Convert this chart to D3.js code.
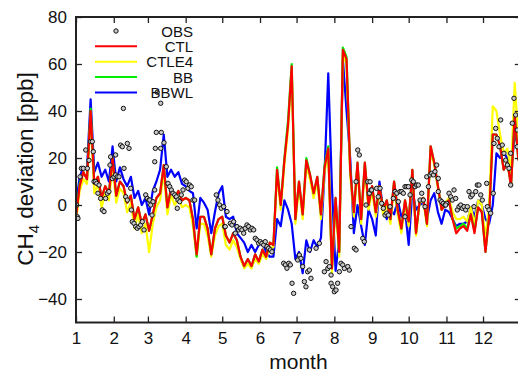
<!DOCTYPE html>
<html>
<head>
<meta charset="utf-8">
<script src="https://cdn.jsdelivr.net/npm/d3@7"></script>
<style>
  body { margin: 0; background: #fff; }
  text { font-family: "Liberation Sans", Arial, sans-serif; fill: #111; }
</style>
</head>
<body>
<svg id="chart" width="518" height="377"></svg>
<script>
// model output, one value every 3 days (day of year 0..363)
var days = d3.range(0, 364, 3);

var ctl = [-5, 8, 14, 11, 40, 9, 12, 3, 8, 5, 20, 4, 10, 8, 1, 4, -6, -1, -8, -4,
    -11, -4, 3, 5, 17, -1, 7, 3, 6, 2, 3, 2, -6, -21, -5, -5, -10, -21, -10, -6,
    -5, -13, -16, -12, -15, -22, -26, -23, -26, -21, -24, -19, -22, -16, -17, 15, 0, 19, 34, 59,
    -6, 10, -4, 19, 13, 5, 12, -4, 16, 24, -27, 3, -20, 66, 62, 15, -3, 18, -6, 18,
    0, 8, -3, 8, -2, 2, -6, 10, -2, -10, 2, -7, 15, -12, 2, 3, -8, 25, 18, 8,
    -2, 0, 2, -6, -12, -10, -9, -11, -4, -12, -1, -3, -20, -5, 30, 30, 25, 15, 18, 8,
    38, 19];

var ctle4 = [-7, 6, 11, 9, 37, 5, 9, -1, 5, 2, 17, 1, 7, 5, -3, 1, -10, -4, -12, -8,
    -20, -8, -1, 2, 14, -4, 4, 0, 3, -1, 0, -1, -9, -22, -8, -8, -13, -22, -13, -9,
    -8, -17, -19, -15, -18, -23, -27, -25, -27, -23, -25, -21, -23, -18, -18, 13, -2, 17, 32, 57,
    -8, 8, -6, 17, 11, 3, 10, -6, 14, 22, -29, 1, -22, 64, 60, 13, -5, 16, -8, 16,
    -2, 6, -5, 6, -4, 0, -8, 8, -4, -12, 0, -9, 13, -13, 1, 2, -9, 23, 17, 7,
    -2, 1, 3, -3, -6, -6, -5, -7, -1, -8, 2, 0, -14, -1, 42, 40, 30, 22, 24, 14,
    52, 28];

var bb = [-5, 9, 14, 11, 41, 9, 12, 3, 8, 5, 20, 4, 10, 8, 1, 4, -6, -1, -8, -4,
    -11, -4, 3, 5, 17, -1, 7, 3, 6, 2, 3, 2, -6, -22, -5, -5, -10, -21, -10, -6,
    -5, -13, -16, -12, -15, -22, -26, -23, -26, -21, -24, -19, -22, -16, -17, 16, 0, 20, 36, 60,
    -6, 10, -4, 20, 13, 5, 12, -4, 17, 25, -27, 3, -20, 67, 63, 15, -3, 18, -6, 18,
    0, 8, -3, 8, -2, 2, -6, 10, -2, -10, 2, -7, 15, -12, 2, 3, -8, 25, 18, 8,
    -2, 0, 2, -6, -10, -9, -8, -10, -4, -11, -1, -3, -20, -5, 30, 30, 25, 15, 18, 8,
    38, 19];

var bbwl = [0, 12, 16, 15, 45, 14, 18, 12, 15, 10, 25, 10, 16, 11, 8, 12, 3, 6, 0, 3,
    -4, 6, 10, 15, 30, 12, 15, 12, 14, 9, 8, 6, 5, -10, 3, 1, -2, -12, -3, 5,
    8, -5, -6, -5, -12, -14, -16, -20, -17, -20, -17, -16, -20, -22, -22, -6, -9, 2, -2, -8,
    -23, -20, -29, -15, -20, -15, -18, -14, 14, 56, 8, -28, -15, 62, 40, 20, -12, 0, -9, -17,
    -2, -6, -13, 10, -2, -6, -2, -4, 2, -5, -2, -17, 6, -2, 0, 1, -6, 2, 5, -3,
    -8, -2, -3, -6, -9, -8, -8, -7, -1, -5, 2, 0, -6, -8, 0, 22, 20, 22, 20, 14,
    30, 25];

// observations (day of year, deviation in ppb)
var obsDay = [0.5, 1.1, 1.6, 3.3, 4.4, 6, 8, 9.3, 10.7, 12, 13.4, 14.2, 14.8, 16.1, 17, 18, 18.9, 20.2, 21.6, 23,
    24.3, 25.7, 27, 27.9, 28.4, 29.8, 31.2, 32.5, 32.5, 33.9, 35.3, 36.6, 38, 38.9, 39.4, 40.8, 42.1, 43.5, 42.1, 44.9,
    45.4, 46.2, 47.6, 49, 50.3, 51.7, 53.1, 54.4, 55.8, 57.2, 58.5, 59.9, 61.3,
    60.5, 63.2, 62.4, 64.6, 65.9, 70, 65.1, 69.5, 72.2, 64.6, 66.6, 69.5, 74.1, 75.5, 76.9, 78.2, 79.6, 81, 82.3, 83.7,
    85.1, 83.1, 86.4, 87.8, 89.2, 90.5, 91.9, 93.3, 94.6, 96, 97.4, 115.1, 116.5, 117.9, 119.2, 122,
    121.2, 123.9, 122.5, 126.6, 128, 129.4, 130.7, 132.1, 133.5, 134.8, 136.2, 137.6, 138.9, 140.3, 141.7, 143, 144.4, 145.8,
    147.1, 148.5, 149.9, 151.2, 152.6, 154, 155.3, 156.7, 158.1, 159.5, 160.8, 170.4, 171.8, 173.1, 174.6, 175.9, 177.3, 178.6,
    181.9, 183.3, 184.6, 186, 187.4, 188.7, 190.1, 191.5, 191.5, 192.8, 197, 199.7, 203.8, 205.2, 206.6, 207.9, 209.3, 209.3,
    210.6, 212, 213.4, 214.7, 216.1, 217.5, 218.9, 220.2, 223, 224.3, 225.7, 228.4, 229.8, 231.2, 232.5, 229.8, 235.3, 236.6,
    238, 239.4, 240.7, 242.1,
    241.3, 242.6, 246.7, 248, 249.5, 250.8, 252.2, 253.6, 255, 256.3, 257.7, 260.4, 261.8, 263.2, 264.5, 265.9, 267.3, 268.6,
    270, 270, 271.4, 272.8, 274.1, 275.5, 276.8, 278.2, 279.6, 280.9, 282.3, 283.7, 285, 286.4, 287.8, 289.2, 290.6, 291.9,
    293.3, 294.6, 296, 297.3, 297.3, 298.7, 300.1, 301.4, 302.8, 304.2,
    303.4, 306.1, 307.5, 308.8, 310.2, 311.6, 312.9, 314.3, 315.7, 317, 318.4, 319.8, 321.1, 322.5, 323.9, 325.2, 326.6, 328,
    329.3, 330.7, 332.1, 333.4, 337, 337.5, 338.9, 340.3, 342.4, 343, 344.4, 345.7, 347.1, 348.5, 349.8, 351.2, 352.6, 354,
    355.3, 356.7, 356.7, 358, 359.4, 360.8, 362.1, 362.1];

var obsCH4 = [0, -5, -5.7, 12, 15.6, 15.6, 23.4, 15.6, 19, 27, 27, 22.7, 10, 10, 9.2, 5, 8.5, 2.8, -2.1, -2.8,
    2.8, 5, 5.7, 17, 20.5, 11.3, 12, 12.8, 21.3, 12, 12, 25.5, 24.8, 41.1, 15.6, 3.5, 2.1, 24.1, 26.2, 7.1,
    -2.1, -7.1, -7.8, -9.2, -9.9, -9.2, -8.5, -7.1, -10.6, 4.3, 2.8, 2.1, 0,
    2.1, 1.4, -4.3, 6.4, 30.9, 30.9, 24.1, 24.1, 26.5, 18.4, 48, 43.3, 16.3, 9.2, 7.8, 6.4, 5, 4.3, 3.5, 2.1,
    1.4, -1.4, 4.3, 6.4, 10.6, 9.9, 7.1, 8.5, 7.8, 2.1, 2.1, 4.3, 2.1, 0, -1.4, -9.2,
    -0.7, -2.8, -9.2, -7.8, -8.5, -7.1, -12, -9.2, -10.6, -9.9, -10.6, -12, -9.9, -8.5, -9.2, -10.6, -9.9, -10.6,
    -14.2, -14.9, -16.3, -15.6, -16.3, -17, -15.6, -17.7, -18.4, -19.1, -19.9, -24.8, -25.5, -26.9, -24.8, -25.5, -33.3, -37.6,
    -23.4, -21.3, -22.7, -26.2, -32.6, -34.8, -28.4, -27.7, -19.1, -31.2, -18.4, -16.3, -28.4, -24.1, -27, -26.2, -29.8, -33.3,
    -34.8, -36.9, -36.2, -33.3, -28.4, -24.8, -25.5, -27, -26.2, -27.7, -9.2, -18.4, -19.1, 23.4, 21.3, 9.9, -14.2, -15.6,
    0, 9.9, 5, 6.4,
    9.9, 6.4, 7.1, 3.5, 7.1, 0.7, -1.4, -4.3, -3.5, -4.3, -0.7, 2.8, 5.7, 5, 1.4, 5.7, 5.7, 5,
    -5, 7.8, 7.8, 7.8, 4.3, 10.6, 9.9, 7.8, 8.5, 8.5, 2.1, 5, 2.1, -0.7, 12, 7.8, 12.8, 13.5,
    12.8, 14.2, 17, 11.3, 5.7, 2.1, 1.4, 0.7, 0, 0.7,
    0, 5, 3.5, 2.1, 6.4, 2.8, -2.1, -0.7, 0, -1.4, -0.7, -2.1, -0.7, 5.7, 3.5, 4.3, -0.7, 5.7,
    8.5, 8.5, 4.3, 2.1, 9.2, -0.7, -2.1, -3.5, 5, 26.2, 32.6, 28.4, 24.8, 36.2, 25.5, 22, 19.1, 17,
    15.6, 8.5, 22, 34.8, 45.4, 38.3, 31.9, 24.8];

var monthStart = [0, 31, 59, 90, 120, 151, 181, 212, 243, 273, 304, 334];
var monthLabels = ["1", "2", "3", "4", "5", "6", "7", "8", "9", "10", "11", "12"];
var yTicks = [-40, -20, 0, 20, 40, 60, 80];

var seriesNames = ["CTL", "CTLE4", "BB", "BBWL"];
var seriesColors = ["#ff0000", "#ffff00", "#00ee00", "#0000ff"];
var seriesData = [ctl, ctle4, bb, bbwl];

var plotLeft = 76, plotTop = 17, plotRight = 520.8, plotBottom = 322.5;

var svg = d3.select("#chart");

var x = d3.scaleLinear().domain([0, 365]).range([plotLeft, plotRight]);
var y = d3.scaleLinear().domain([-50, 80]).range([plotBottom, plotTop]);

svg.append("defs").append("clipPath").attr("id", "plotclip")
    .append("rect")
    .attr("x", plotLeft).attr("y", plotTop)
    .attr("width", plotRight - plotLeft).attr("height", plotBottom - plotTop);

// model lines, red drawn last so it sits on top
var line = d3.line()
    .x(function(d, i) { return x(days[i]); })
    .y(function(d) { return y(d); });

var drawOrder = [3, 1, 2, 0];
var plot = svg.append("g").attr("clip-path", "url(#plotclip)");
drawOrder.forEach(function(k) {
    plot.append("path")
        .datum(seriesData[k])
        .attr("fill", "none")
        .attr("stroke", seriesColors[k])
        .attr("stroke-width", 2.2)
        .attr("stroke-linejoin", "round")
        .attr("d", line);
});

// observation markers
plot.selectAll("circle.obs")
    .data(obsDay)
    .enter().append("circle")
    .attr("class", "obs")
    .attr("cx", function(d) { return x(d); })
    .attr("cy", function(d, i) { return y(obsCH4[i]); })
    .attr("r", 2.2)
    .attr("fill", "#c8c8c8")
    .attr("stroke", "#111")
    .attr("stroke-width", 1);

// axes, ticks pointing inward on all four sides
function styleAxis(g) {
    g.select(".domain").remove();
    g.selectAll(".tick line").attr("stroke", "#222").attr("stroke-width", 1.3);
    g.selectAll(".tick text").style("font-size", "17px").attr("fill", "#111");
}

svg.append("g")
    .attr("transform", "translate(0," + plotBottom + ")")
    .call(d3.axisBottom(x).tickValues(monthStart)
        .tickFormat(function(d, i) { return monthLabels[i]; })
        .tickSize(-6).tickPadding(9))
    .call(styleAxis);

svg.append("g")
    .attr("transform", "translate(0," + plotTop + ")")
    .call(d3.axisTop(x).tickValues(monthStart).tickFormat("").tickSize(-6))
    .call(styleAxis);

svg.append("g")
    .attr("transform", "translate(" + plotLeft + ",0)")
    .call(d3.axisLeft(y).tickValues(yTicks).tickSize(-6).tickPadding(9))
    .call(styleAxis);

svg.append("g")
    .attr("transform", "translate(" + plotRight + ",0)")
    .call(d3.axisRight(y).tickValues(yTicks).tickFormat("").tickSize(-6))
    .call(styleAxis);

svg.append("rect")
    .attr("x", plotLeft).attr("y", plotTop)
    .attr("width", plotRight - plotLeft).attr("height", plotBottom - plotTop)
    .attr("fill", "none")
    .attr("stroke", "#222")
    .attr("stroke-width", 2);

// axis titles
svg.append("text")
    .attr("x", (plotLeft + plotRight) / 2)
    .attr("y", 369)
    .attr("text-anchor", "middle")
    .style("font-size", "21px")
    .text("month");

var ylab = svg.append("text")
    .attr("transform", "translate(33,169) rotate(-90)")
    .attr("text-anchor", "middle")
    .style("font-size", "22.5px");
ylab.append("tspan").text("CH");
ylab.append("tspan").attr("dy", 6).style("font-size", "15px").text("4");
ylab.append("tspan").attr("dy", -6).text(" deviation [ppb]");

// legend
var legend = svg.append("g");
legend.append("circle")
    .attr("cx", 116).attr("cy", 31).attr("r", 2.2)
    .attr("fill", "#c8c8c8").attr("stroke", "#111").attr("stroke-width", 1);
legend.append("text")
    .attr("x", 193).attr("y", 36.5)
    .attr("text-anchor", "end")
    .style("font-size", "15px")
    .text("OBS");

seriesNames.forEach(function(name, k) {
    var ly = 46.3 + k * 15.4;
    legend.append("line")
        .attr("x1", 95).attr("x2", 137)
        .attr("y1", ly).attr("y2", ly)
        .attr("stroke", seriesColors[k])
        .attr("stroke-width", 2);
    legend.append("text")
        .attr("x", 193).attr("y", ly + 5.5)
        .attr("text-anchor", "end")
        .style("font-size", "15px")
        .text(name);
});
</script>
</body>
</html>
